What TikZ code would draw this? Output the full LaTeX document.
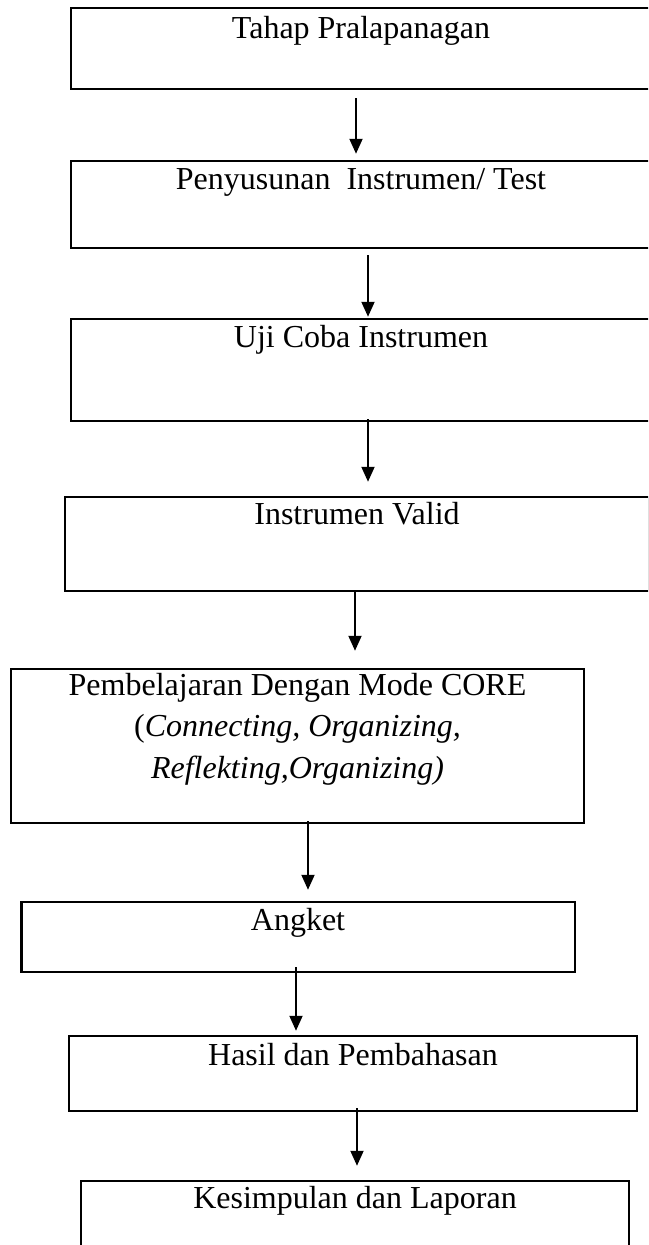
\documentclass[tikz,border=0pt]{standalone}
\usepackage{fontspec}
\setmainfont{Liberation Serif}
\usetikzlibrary{arrows.meta}
\begin{document}
\begin{tikzpicture}
[x=1pt,y=-1pt,%
  boxDecorate/.style={draw,rectangle,line width=2.5pt,inner sep=0pt},%
  textDecorate/.style={anchor=base,inner sep=0pt,font={\fontsize{32}{40}\selectfont}},%
  arrowDecorate/.style={-{Triangle[length=15pt,width=13pt]},line width=2pt}]
\useasboundingbox (0,0) rectangle (648,1245);
\clip (0,0) rectangle (648,1245);
%% boxes
\foreach \boxname/\x/\y/\w/\h in {
  tahap/361/48.5/580/81, susun/361/204.5/580/87, uji/361/370/580/102,
  valid/357/544/584/94, core/297.5/746/573/154, angket/298/937/553.5/70,
  hasil/353/1073.5/568/75, simpul/355/1221/548/80}
{
  \node (\boxname) at (\x,\y) [boxDecorate,minimum width=\w pt,minimum height=\h pt] {};
}
%% texts
\node (tahapText) [textDecorate] at ([yshift=-32pt]tahap.north) {Tahap Pralapanagan};
\node (susunText) [textDecorate] at ([yshift=-30pt]susun.north) {Penyusunan\ \ Instrumen/ Test};
\node (ujiText) [textDecorate] at ([yshift=-30pt]uji.north) {Uji Coba Instrumen};
\node (validText) [textDecorate] at ([yshift=-29pt]valid.north) {Instrumen Valid};
\node (coreTextA) [textDecorate] at ([yshift=-28pt]core.north) {Pembelajaran Dengan Mode CORE};
\node (coreTextB) [textDecorate] at ([yshift=-69pt]core.north) {(\textit{Connecting, Organizing,}};
\node (coreTextC) [textDecorate] at ([yshift=-111pt]core.north) {\textit{Reflekting,Organizing)}};
\node (angketText) [textDecorate] at ([yshift=-30pt]angket.north) {Angket};
\node (hasilText) [textDecorate] at ([yshift=-31pt]hasil.north) {Hasil dan Pembahasan};
\node (simpulText) [textDecorate] at ([yshift=-29pt]simpul.north) {Kesimpulan dan Laporan};
%% arrows
\foreach \startnode/\sx/\sy/\endnode/\ex/\ey in {
  tahap/-5/-8/susun/-5/6, susun/7/-6/uji/7/1, uji/7/3/valid/11/14,
  valid/-2/0/core/57.5/17, core/10.5/3/angket/10/11, angket/-2/6/hasil/-57/4,
  hasil/4/4/simpul/2/14}
{
  \draw[arrowDecorate] ([xshift=\sx pt,yshift=\sy pt]\startnode.south)
    -- ([xshift=\ex pt,yshift=\ey pt]\endnode.north);
}
\end{tikzpicture}
\end{document}
